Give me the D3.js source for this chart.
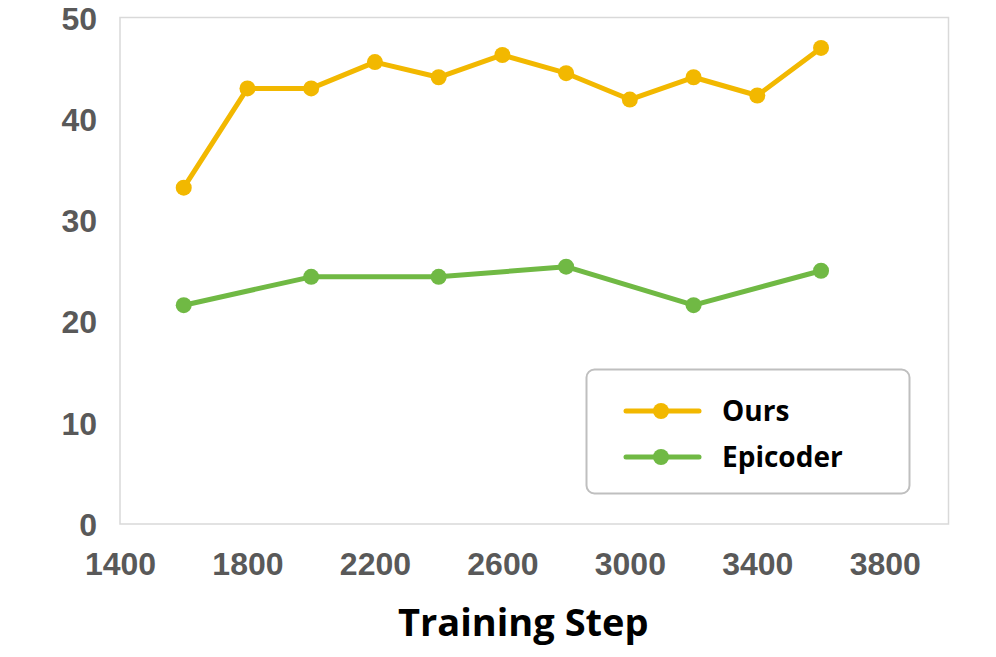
<!DOCTYPE html>
<html lang="en">
<head>
  <meta charset="UTF-8">
  <title>Training Step</title>
  <script src="https://d3js.org/d3.v7.min.js"></script>
  <style>
    body { margin: 0; background: #fff; }
    svg { display: block; }
    .tick text { font-family: "Liberation Sans", Arial, sans-serif; font-weight: bold; fill: #595959; }
  </style>
</head>
<body>
<svg id="chart" width="996" height="657"></svg>
<script>
  const steps = [1600, 1800, 2000, 2200, 2400, 2600, 2800, 3000, 3200, 3400, 3600];
  const oursValues = [33.2, 43.0, 43.0, 45.6, 44.1, 46.3, 44.5, 41.9, 44.1, 42.3, 47.0];
  const epicoderSteps = [1600, 2000, 2400, 2800, 3200, 3600];
  const epicoderValues = [21.6, 24.4, 24.4, 25.4, 21.6, 25.0];
  const xTicks = [1400, 1800, 2200, 2600, 3000, 3400, 3800];
  const yTicks = [0, 10, 20, 30, 40, 50];

  const series = [
    { name: "Ours", color: "#F2B800", pts: steps.map((s, i) => [s, oursValues[i]]) },
    { name: "Epicoder", color: "#70B944", pts: epicoderSteps.map((s, i) => [s, epicoderValues[i]]) }
  ];

  const svg = d3.select("#chart");
  const plotLeft = 120, plotRight = 948.5, plotTop = 17.5, plotBottom = 524;

  const x = d3.scaleLinear().domain([1400, 4000]).range([plotLeft, plotRight]);
  const y = d3.scaleLinear().domain([0, 50]).range([plotBottom, plotTop]);

  // plot frame
  svg.append("rect")
    .attr("x", plotLeft).attr("y", plotTop)
    .attr("width", plotRight - plotLeft).attr("height", plotBottom - plotTop)
    .attr("fill", "none").attr("stroke", "#d9d9d9").attr("stroke-width", 1.5);

  // axes (labels only)
  const yAxis = svg.append("g")
    .attr("transform", `translate(${plotLeft},0)`)
    .call(d3.axisLeft(y).tickValues(yTicks).tickSize(0).tickPadding(23));
  yAxis.select(".domain").remove();
  yAxis.selectAll("text").style("font-size", "32px").attr("dy", "0.36em");

  const xAxis = svg.append("g")
    .attr("transform", `translate(0,${plotBottom})`)
    .call(d3.axisBottom(x).tickValues(xTicks).tickSize(0).tickPadding(28).tickFormat(d3.format("d")));
  xAxis.select(".domain").remove();
  xAxis.selectAll("text").style("font-size", "32px");

  const line = d3.line().x(d => x(d[0])).y(d => y(d[1]));

  series.forEach(s => {
    svg.append("path")
      .datum(s.pts)
      .attr("d", line)
      .attr("fill", "none")
      .attr("stroke", s.color)
      .attr("stroke-width", 5)
      .attr("stroke-linejoin", "round")
      .attr("stroke-linecap", "round");
    svg.selectAll(null)
      .data(s.pts)
      .enter()
      .append("circle")
      .attr("cx", d => x(d[0]))
      .attr("cy", d => y(d[1]))
      .attr("r", 8)
      .attr("fill", s.color);
  });

  // legend
  const lg = svg.append("g");
  lg.append("rect")
    .attr("x", 586.5).attr("y", 369.5)
    .attr("width", 323).attr("height", 124)
    .attr("rx", 8)
    .attr("fill", "#fff").attr("stroke", "#bfbfbf").attr("stroke-width", 2);
  series.forEach((s, i) => {
    const ly = 411 + i * 46;
    lg.append("line")
      .attr("x1", 626).attr("x2", 699).attr("y1", ly).attr("y2", ly)
      .attr("stroke", s.color).attr("stroke-width", 5).attr("stroke-linecap", "round");
    lg.append("circle").attr("cx", 661).attr("cy", ly).attr("r", 8).attr("fill", s.color);
    lg.append("text")
      .attr("x", 722).attr("y", ly)
      .attr("dy", "0.35em")
      .style("font-family", "'Open Sans', 'Noto Sans', sans-serif")
      .style("font-weight", "bold")
      .style("font-size", "28px")
      .attr("fill", "#000")
      .text(s.name);
  });

  // x axis title
  svg.append("text")
    .attr("x", (plotLeft + plotRight) / 2 - 11)
    .attr("y", 636)
    .attr("text-anchor", "middle")
    .style("font-family", "'Open Sans', 'Noto Sans', sans-serif")
    .style("font-weight", "bold")
    .style("font-size", "38px")
    .attr("fill", "#000")
    .text("Training Step");
</script>
</body>
</html>
